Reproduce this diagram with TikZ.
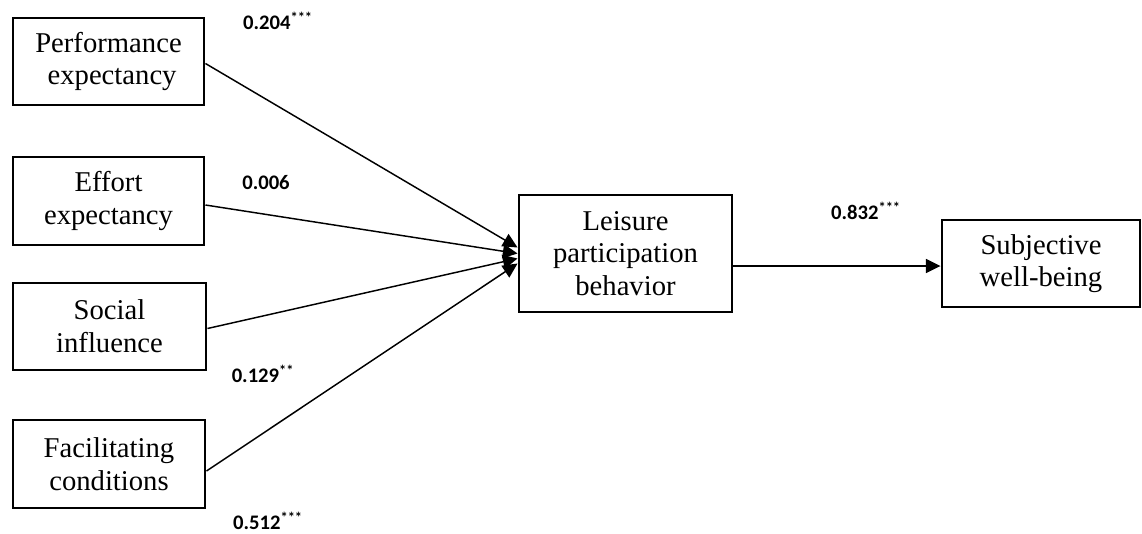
\documentclass[tikz,border=0pt]{standalone}
\usepackage{fontspec}
\setmainfont{Liberation Serif}
\newfontfamily\lblfont{Carlito}
\usetikzlibrary{arrows.meta,calc}
\begin{document}
\begin{tikzpicture}[x=0.75pt,y=-0.75pt,
  box/.style={draw,line width=2.2pt,align=center,inner sep=0pt,
    font=\fontsize{21.5}{24.5}\selectfont},
  conn/.style={line width=1.1pt,-{Triangle[length=11pt,width=10.5pt]}},
  coef/.style={font=\lblfont\bfseries\fontsize{15.5}{17}\selectfont,inner sep=0pt}]
\useasboundingbox (0,0) rectangle (1142,533);
\node[box,minimum width=191*0.75pt,minimum height=87*0.75pt] (pe) at (108.5,61.5) {Performance\\\ expectancy};
\node[box,minimum width=191*0.75pt,minimum height=88*0.75pt] (ee) at (108.5,201) {Effort\\expectancy};
\node[box,minimum width=193*0.75pt,minimum height=87*0.75pt] (si) at (109.5,326.5) {Social\\influence};
\node[box,minimum width=192*0.75pt,minimum height=88*0.75pt] (fc) at (109,464) {Facilitating\\conditions};
\node[box,minimum width=213*0.75pt,minimum height=117*0.75pt] (lp) at (625.5,253.5) {Leisure\\participation\\behavior};
\node[box,minimum width=198*0.75pt,minimum height=87*0.75pt] (sw) at (1041,263.5) {Subjective\\well-being};
\draw[conn] ($(pe.east)+(0,2)$) -- ($(lp.west)+(0,-6)$);
\draw[conn] ($(ee.east)+(0,4)$) -- ($(lp.west)+(0,0)$);
\draw[conn] ($(si.east)+(0,2)$) -- ($(lp.west)+(0,5)$);
\draw[conn] ($(fc.east)+(0,7)$) -- ($(lp.west)+(0,10)$);
\draw[conn] ($(lp.east)+(0,12.5)$) -- ($(sw.west)+(0,2.5)$);
\node[coef] (c1) at (278,21) {0.204\textsuperscript{***}};
\node[coef] (c2) at (266,183) {0.006};
\node[coef] (c3) at (263,374) {0.129\textsuperscript{**}};
\node[coef] (c4) at (268,521) {0.512\textsuperscript{***}};
\node[coef] (c5) at (866,211) {0.832\textsuperscript{***}};
\end{tikzpicture}
\end{document}
